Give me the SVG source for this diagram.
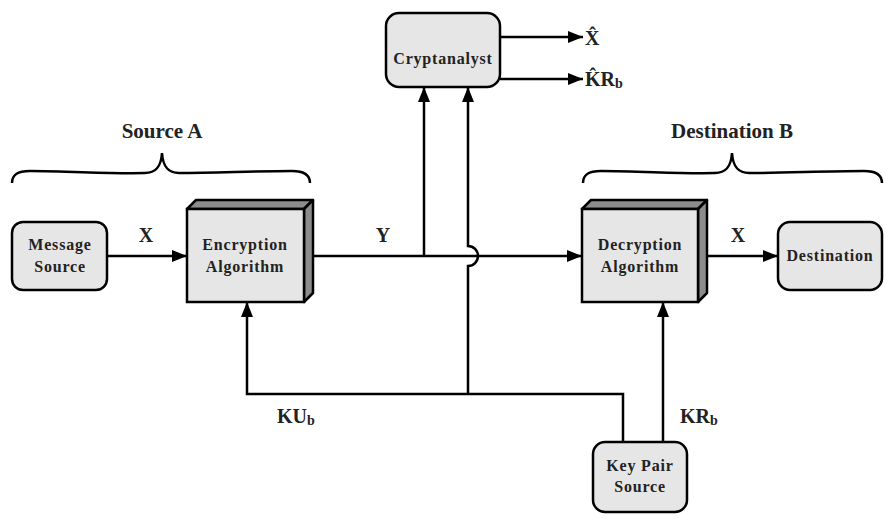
<svg xmlns="http://www.w3.org/2000/svg" width="885" height="520" viewBox="0 0 885 520">
<defs>
<marker id="ah" markerUnits="userSpaceOnUse" markerWidth="16" markerHeight="12" refX="15" refY="6" orient="auto">
<path d="M0,0 L15,6 L0,12 Z" fill="#000"/>
</marker>
<style>
.box{fill:#e6e6e6;stroke:#000;stroke-width:2.5}
.side{fill:#8c8c8c;stroke:#000;stroke-width:2.5;stroke-linejoin:round}
.ln{fill:none;stroke:#000;stroke-width:2.5}
.arr{fill:none;stroke:#000;stroke-width:2.5;marker-end:url(#ah)}
.nt{font-family:"Liberation Serif","Times New Roman",serif;font-weight:bold;font-size:16px;letter-spacing:0.8px;fill:#222;text-anchor:middle}
.lb{font-family:"Liberation Serif","Times New Roman",serif;font-weight:bold;font-size:20px;fill:#222}
.hd{font-family:"Liberation Serif","Times New Roman",serif;font-weight:bold;font-size:21px;fill:#222;text-anchor:middle}
.br{fill:none;stroke:#000;stroke-width:2.5}
</style>
</defs>
<rect width="885" height="520" fill="#fff"/>

<g id="braces">
<path class="br" d="M12,183 C12,175 17,171 30,171 C70,171 110,174 145,173 C155,173 161,168 162,153 C163,168 169,173 179,173 C215,173 255,171 292,171 C304,171 310,175 310,183"/>
<text class="hd" x="162" y="138">Source A</text>
<path class="br" d="M583,183 C583,175 588,171 601,171 C641,171 681,174 715,173 C725,173 731,168 732,153 C733,168 739,173 749,173 C785,173 825,171 864,171 C876,171 882,175 882,183"/>
<text class="hd" x="732" y="138">Destination B</text>
</g>

<g id="connectors">
<line class="arr" x1="107" y1="256" x2="187" y2="256"/>
<line class="arr" x1="313" y1="256" x2="582" y2="256"/>
<line class="arr" x1="707" y1="256" x2="778" y2="256"/>
<line class="arr" x1="424" y1="256" x2="424" y2="87"/>
<path class="arr" d="M468,394 L468,266 A10,10 0 0 0 468,246 L468,87"/>
<path class="arr" d="M623,442 L623,394 L247,394 L247,302"/>
<line class="arr" x1="663" y1="442" x2="663" y2="302"/>
<line class="arr" x1="500" y1="37" x2="583" y2="37"/>
<line class="arr" x1="500" y1="79" x2="583" y2="79"/>
</g>

<g id="labels">
<text class="lb" x="146" y="242" text-anchor="middle">X</text>
<text class="lb" x="383" y="242" text-anchor="middle">Y</text>
<text class="lb" x="738" y="242" text-anchor="middle">X</text>
<text class="lb" x="277" y="423">KU<tspan font-size="14" dy="2">b</tspan></text>
<text class="lb" x="680" y="423">KR<tspan font-size="14" dy="2">b</tspan></text>
<text class="lb" x="585" y="45">X̂</text>
<text class="lb" x="585" y="86">K̂R<tspan font-size="14" dy="2">b</tspan></text>
</g>

<g id="message-source">
<rect class="box" x="12" y="222" width="95" height="68" rx="11"/>
<text class="nt" x="60" y="250">Message</text>
<text class="nt" x="60" y="272">Source</text>
</g>

<g id="encryption">
<polygon class="side" points="187,209 196,200 313,200 304,209"/>
<polygon class="side" points="304,209 313,200 313,293 304,302"/>
<rect class="box" x="187" y="209" width="117" height="93"/>
<text class="nt" x="245" y="250">Encryption</text>
<text class="nt" x="245" y="272">Algorithm</text>
</g>

<g id="cryptanalyst">
<rect class="box" x="386" y="13" width="114" height="74" rx="13"/>
<text class="nt" x="443" y="64">Cryptanalyst</text>
</g>

<g id="decryption">
<polygon class="side" points="582,209 591,200 707,200 698,209"/>
<polygon class="side" points="698,209 707,200 707,293 698,302"/>
<rect class="box" x="582" y="209" width="116" height="93"/>
<text class="nt" x="640" y="250">Decryption</text>
<text class="nt" x="640" y="272">Algorithm</text>
</g>

<g id="destination">
<rect class="box" x="778" y="222" width="104" height="68" rx="12"/>
<text class="nt" x="830" y="261">Destination</text>
</g>

<g id="key-pair-source">
<rect class="box" x="593" y="442" width="94" height="70" rx="12"/>
<text class="nt" x="640" y="471">Key Pair</text>
<text class="nt" x="640" y="492">Source</text>
</g>
</svg>
